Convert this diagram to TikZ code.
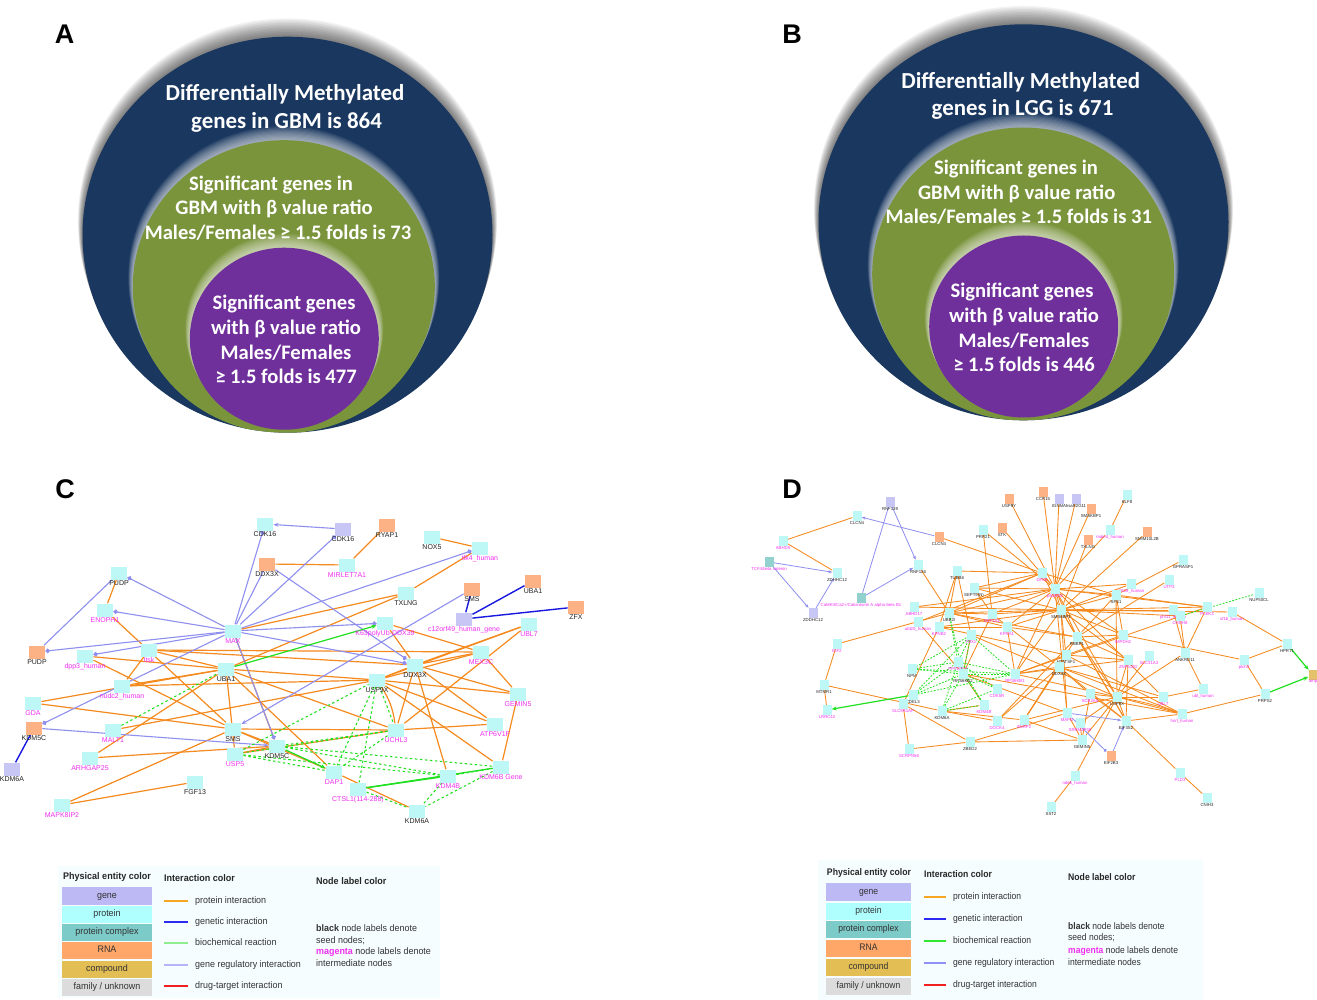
\documentclass[tikz,border=0pt]{standalone}
\usepackage{fontspec}
\setmainfont{Liberation Sans}
\newfontfamily\carl{Carlito}
\newfontfamily\legc[FakeStretch=0.94]{Liberation Sans}
\newfontfamily\legd[FakeStretch=0.90]{Liberation Sans}
\usetikzlibrary{arrows.meta}
\definecolor{navyc}{HTML}{19375F}
\definecolor{greenc}{HTML}{7A943C}
\definecolor{purpc}{HTML}{70309C}
\definecolor{colp}{HTML}{BDF8F6}
\definecolor{colr}{HTML}{FDB285}
\definecolor{colg}{HTML}{C8C6F4}
\definecolor{colc}{HTML}{93D1CF}
\definecolor{coly}{HTML}{E3C26A}
\definecolor{labk}{HTML}{222222}
\definecolor{labm}{HTML}{F030F0}
\definecolor{lorange}{HTML}{F58A1F}
\definecolor{lgr}{HTML}{8F8FF0}
\definecolor{lblue}{HTML}{1818E0}
\definecolor{lgreen}{HTML}{20E020}
\definecolor{legbg}{HTML}{F6FDFE}
\definecolor{lgene}{HTML}{BDB9F5}
\definecolor{lprot}{HTML}{AFFFFF}
\definecolor{lcomp}{HTML}{7CCBC8}
\definecolor{lrna}{HTML}{FFA769}
\definecolor{lcpd}{HTML}{E3BE55}
\definecolor{lfam}{HTML}{DCDCDC}
\definecolor{legtxt}{HTML}{333333}
\pgfdeclarelayer{edges}
\pgfdeclarelayer{back}
\pgfsetlayers{back,edges,main}
\tikzset{
 x=1pt,y=-1pt,
 cbox/.style={minimum width=16.5pt,minimum height=13pt,inner sep=0pt,draw=none},
 dbox/.style={minimum width=9pt,minimum height=10pt,inner sep=0pt,draw=none},
 clabel/.style={font=\fontsize{7}{8}\selectfont,inner sep=0pt,label distance=1pt},
 dlabel/.style={font=\fontsize{4.3}{5}\selectfont,inner sep=0pt},
 op/.style={lorange,line width=1.2pt},
 dop/.style={lorange,line width=.85pt},
 ggr/.style={lgr,line width=1.1pt},
 dgr/.style={lgr,line width=.8pt},
 gball/.style={ggr,-{Circle[length=4.5pt,width=4.5pt]}},
 garr/.style={ggr,-{Stealth[length=5pt,width=4pt]}},
 dball/.style={dgr,-{Circle[length=3pt,width=3pt]}},
 darr/.style={dgr,-{Stealth[length=4pt,width=3pt]}},
 gen/.style={lblue,line width=1.4pt},
 gs/.style={lgreen,line width=1.3pt},
 gsa/.style={lgreen,line width=1.2pt,-{Stealth[length=5pt,width=4pt]}},
 gd/.style={lgreen,line width=1.05pt,dash pattern=on 2.5pt off 2.5pt},
 dgd/.style={lgreen,line width=.8pt,dash pattern=on 1.8pt off 1.5pt},
 bigt/.style={white,anchor=base,inner sep=0pt,yshift=-1.2pt,font=\carl\bfseries\fontsize{22.9}{26}\selectfont},
 midt/.style={white,anchor=base,inner sep=0pt,yshift=-.8pt,font=\carl\bfseries\fontsize{20.6}{24}\selectfont},
 pan/.style={font=\bfseries\fontsize{27}{30}\selectfont,inner sep=0pt,text=black},
 legrow/.style={inner sep=0pt,minimum height=17.5pt,text=legtxt,text height=6.8pt,text depth=2pt},
 legh/.style={inner sep=0pt,text=black!85,text height=6.8pt,text depth=2pt},
 legt/.style={inner sep=0pt,anchor=west,text=legtxt,text height=6.8pt,text depth=2pt},
 fc/.style={font=\legc\fontsize{9.5}{11}\selectfont},
 fd/.style={font=\legd\fontsize{9.5}{11}\selectfont},
 fch/.style={font=\legc\bfseries\fontsize{9.6}{11}\selectfont},
 fdh/.style={font=\legd\bfseries\fontsize{9.6}{11}\selectfont},
}
\newcommand{\nC}[6]{\node[cbox,fill=col#4,label={[clabel,text=lab#5]below:#6}] (#1) at (#2,#3) {};}
\newcommand{\nD}[6]{\node[dbox,fill=col#4,label={[dlabel,text=lab#5]below:#6}] (#1) at (#2,#3) {};}
\newcommand{\ed}[2]{\foreach \a/\b in {#2} {\draw[#1] (\a) -- (\b);}}
% cx cy rx ry colour opacity up-shift-per-step
\newcommand{\halo}[7]{\foreach \i in {1,...,12} {\fill[#5,opacity=#6] (#1,{#2-\i*#7}) ellipse [x radius={#3pt+\i*.38pt},y radius={#4pt+\i*.38pt}];}}
\newcommand{\venn}[6]{%
 \halo{#1}{#2}{205}{198}{black}{.05}{1.15}
 \fill[navyc] (#1,#2) ellipse [x radius=205pt,y radius=198pt];
 \begin{scope}
 \clip (#1,#2) ellipse [x radius=205pt,y radius=198pt];
 \halo{#3}{#4}{151}{146.5}{white}{.07}{.8}
 \fill[greenc] (#3,#4) ellipse [x radius=151pt,y radius=146.5pt];
 \begin{scope}
 \clip (#3,#4) ellipse [x radius=151pt,y radius=146.5pt];
 \halo{#5}{#6}{94.5}{91}{white}{.065}{.8}
 \fill[purpc] (#5,#6) ellipse [x radius=94.5pt,y radius=91pt];
 \end{scope}
 \end{scope}}
\begin{document}
\begin{tikzpicture}
\useasboundingbox (0,0) rectangle (1317,1000);
\begin{pgfonlayer}{back}
\fill[white] (0,0) rectangle (1317,1000);
\end{pgfonlayer}
% ---------- panels A and B
\node[pan] (panA) at (64.5,34) {A};
\node[pan] (panB) at (792,34) {B};
\node[pan] (panC) at (65,489) {C};
\node[pan] (panD) at (792,489) {D};
\venn{287.5}{234.7}{283.8}{286.7}{284.3}{338.7}
\venn{1023.5}{222.3}{1023.2}{274}{1023.7}{326.5}
\node[bigt] (a1) at (285,99) {Differentially Methylated};
\node[bigt] (a2) at (286.5,127) {genes in GBM is 864};
\node[midt] (a3) at (271,190) {Significant genes in};
\node[midt] (a4) at (274,214) {GBM with β value ratio};
\node[midt] (a5) at (278,239) {Males/Females ≥ 1.5 folds is 73};
\node[midt] (a6) at (284,309) {Significant genes};
\node[midt] (a7) at (286,334) {with β value ratio};
\node[midt] (a8) at (286,359) {Males/Females};
\node[midt] (a9) at (286,383) {≥ 1.5 folds is 477};
\node[bigt] (b1) at (1020.7,87) {Differentially Methylated};
\node[bigt] (b2) at (1022.5,114) {genes in LGG is 671};
\node[midt] (b3) at (1016,174) {Significant genes in};
\node[midt] (b4) at (1016.7,199) {GBM with β value ratio};
\node[midt] (b5) at (1018.8,223) {Males/Females ≥ 1.5 folds is 31};
\node[midt] (b6) at (1022,297) {Significant genes};
\node[midt] (b7) at (1024,322) {with β value ratio};
\node[midt] (b8) at (1024,347) {Males/Females};
\node[midt] (b9) at (1024,371) {≥ 1.5 folds is 446};
% ---------- panel C nodes
\nC{cdka}{265}{524}{p}{k}{CDK16}
\nC{cdkb}{343}{529}{g}{k}{CDK16}
\nC{ryap}{387}{525}{r}{k}{RYAP1}
\nC{nox}{432}{537}{p}{k}{NOX5}
\nC{tlk}{480}{548}{p}{m}{tlk4\_human}
\nC{ddxr}{267}{564}{r}{k}{DDX3X}
\nC{mir}{347}{565}{p}{m}{MIRLET7A1}
\nC{txl}{406}{593}{p}{k}{TXLNG}
\nC{smsr}{472}{589}{r}{k}{SMS}
\nC{ubaa}{533}{581}{r}{k}{UBA1}
\nC{zfx}{576}{607}{r}{k}{ZFX}
\nC{corf}{464}{619}{g}{m}{c12orf49\_human\_gene}
\nC{ubl}{529}{624}{p}{m}{UBL7}
\nC{kub}{385}{623}{p}{m}{K63polyUb-DDX39}
\nC{mex}{481}{652}{p}{m}{MEX3C}
\nC{ddxp}{415}{665}{p}{k}{DDX3X}
\nC{usx}{377}{680}{p}{k}{USP9X}
\nC{gem}{518}{694}{p}{m}{GEMIN5}
\nC{atp}{495}{724}{p}{m}{ATP6V1F}
\nC{uch}{396}{730}{p}{m}{UCHL3}
\nC{kbg}{501}{767}{p}{m}{KDM6B Gene}
\nC{kdb}{448}{776}{p}{m}{KDM4B}
\nC{dap}{334}{772}{p}{m}{DAP1}
\nC{cts}{358}{789}{p}{m}{CTSL1(114-288)}
\nC{kda}{417}{811}{p}{k}{KDM6A}
\nC{pdt}{119}{573}{p}{k}{PUDP}
\nC{eno}{105}{610}{p}{m}{ENOPH1}
\nC{pdr}{37}{652}{r}{k}{PUDP}
\nC{dpp}{85}{656}{p}{m}{dpp3\_human}
\nC{max}{233}{631}{p}{m}{MAX}
\nC{itk}{149}{650}{p}{m}{Itsk}
\nC{ura}{226}{669}{p}{k}{UBA1}
\nC{nud}{122}{686}{p}{m}{nudc2\_human}
\nC{gda}{33}{703}{p}{m}{GDA}
\nC{kcr}{34}{728}{r}{k}{KDM5C}
\nC{mal}{113}{730}{p}{m}{MALT1}
\nC{sms}{233}{729}{p}{k}{SMS}
\nC{usf}{235}{754}{p}{m}{USP5}
\nC{kcp}{277}{746}{p}{k}{KDM5C}
\nC{arh}{90}{758}{p}{m}{ARHGAP25}
\nC{kag}{12}{769}{g}{k}{KDM6A}
\nC{fgf}{195}{782}{p}{k}{FGF13}
\nC{map}{62}{805}{p}{m}{MAPK8IP2}
% ---------- panel D nodes
\nD{rnf}{890}{502}{g}{k}{RNF139}
\nD{clp}{857}{516}{p}{k}{CLCN4}
\nD{clr}{939}{537}{r}{k}{CLCN4}
\nD{abh}{783}{541}{p}{m}{ABHD5}
\nD{tcf}{769}{562}{c}{m}{TCF4/beta catenin}
\nD{zda}{837}{573}{p}{k}{ZDHHC12}
\nD{zdb}{813}{613}{g}{k}{ZDDHC12}
\nD{rnb}{918}{565}{p}{k}{RNF126}
\nD{cam}{861}{598}{c}{m}{CaMKII/Ca2+/Calcineurin A alpha-beta B1}
\nD{eif}{837}{644}{p}{m}{EIF2}
\nD{mtm}{824}{685}{p}{k}{MTMR1}
\nD{lrr}{827}{710}{p}{m}{LRRC42}
\nD{usy}{1009}{499}{r}{k}{USP9Y}
\nD{prr}{983}{530}{p}{k}{PRR21}
\nD{stk}{1002}{528}{r}{k}{STK}
\nD{tub}{957}{571}{p}{k}{TUBB6}
\nD{sep}{974}{588}{p}{k}{SEPT9(N)}
\nD{ahd}{914}{607}{p}{m}{ABHD17}
\nD{ubt}{918}{622}{p}{m}{ubl20\_human}
\nD{ube}{949}{613}{p}{k}{UBE2I}
\nD{kpb}{939}{627}{p}{m}{KPNB2}
\nD{eef}{992}{614}{p}{m}{EEF1A1}
\nD{kpa}{1007}{627}{p}{m}{KPNA1}
\nD{tbx}{971}{635}{p}{m}{TBX1}
\nD{ppp}{958}{662}{p}{m}{PPP2R5A}
\nD{rsb}{963}{674}{p}{k}{RPS6KB2}
\nD{rsa}{1015}{674}{p}{m}{RPS6KB1}
\nD{npm}{912}{669}{p}{k}{NPM}
\nD{cdk}{997}{689}{p}{m}{CDK5R}
\nD{zdl}{913}{695}{p}{k}{ZDEL3}
\nD{slc}{903}{704}{p}{m}{SLC9A1AP}
\nD{kma}{942}{711}{p}{k}{KDM6A}
\nD{kmb}{984}{705}{p}{m}{KDM4B}
\nD{doc}{997}{721}{p}{m}{DOCK4}
\nD{snr}{1024}{720}{p}{m}{SNRP2}
\nD{zbe}{970}{742}{p}{k}{ZBED2}
\nD{scr}{909}{749}{p}{m}{SCRPN56}
\nD{ccr}{1043}{492}{r}{k}{CCR15}
\nD{ign}{1059}{499}{g}{k}{IGNMA}
\nD{igo}{1076}{499}{g}{k}{hsaR2G11}
\nD{smk}{1091}{509}{r}{k}{SMSKBP1}
\nD{klf}{1127}{495}{p}{k}{KLF8}
\nD{mdm}{1110}{530}{p}{m}{mdm4\_human}
\nD{smi}{1147}{532}{r}{k}{SMIM10L2B}
\nD{txn}{1088}{540}{r}{k}{TXLNG}
\nD{gpr}{1183}{560}{p}{k}{GPRASP1}
\nD{utp}{1169}{580}{p}{m}{UTP3}
\nD{pet}{1131}{584}{p}{m}{p8t19\_human}
\nD{dfs}{1042}{573}{p}{m}{DFS2}
\nD{prk}{1055}{589}{p}{m}{p53RK8}
\nD{sfs}{1116}{595}{p}{k}{SFS1}
\nD{smb}{1061}{610}{p}{k}{SMS6BP1}
\nD{phf}{1173}{610}{p}{m}{phf11\_human}
\nD{chd}{1180}{616}{p}{m}{CHDH8}
\nD{ple}{1207}{607}{p}{m}{PLEK3}
\nD{sfb}{1232}{612}{p}{m}{sf1b\_human}
\nD{nup}{1259}{593}{p}{k}{NUP50CL}
\nD{imp}{1123}{635}{p}{m}{IMPDH2}
\nD{rbb}{1077}{637}{p}{k}{RBBP1}
\nD{hta}{1066}{655}{p}{k}{HTATSF1}
\nD{ddx}{1059}{667}{p}{k}{DDX3X}
\nD{znf}{1128}{660}{p}{m}{ZNF5100}
\nD{sla}{1149}{656}{p}{m}{SLC31A3}
\nD{ank}{1185}{653}{p}{k}{ANKRD11}
\nD{pth}{1244}{660}{p}{m}{ptch3}
\nD{hpr}{1287}{644}{p}{k}{HPRT1}
\nD{amp}{1313}{675}{y}{m}{amp}
\nD{prp}{1265}{694}{p}{k}{PRPS2}
\nD{ubh}{1203}{689}{p}{m}{ubl\_human}
\nD{ubs}{1163}{697}{p}{m}{UBL7}
\nD{usn}{1117}{697}{p}{k}{USP9X}
\nD{scb}{1090}{694}{p}{m}{SCB2A5}
\nD{maf}{1067}{713}{p}{m}{MAFG}
\nD{srr}{1080}{723}{p}{m}{SRRM2P58}
\nD{efs}{1126}{721}{p}{k}{EIF3S2}
\nD{hnr}{1182}{714}{p}{m}{hnrl\_human}
\nD{gmn}{1082}{740}{p}{k}{GEMIN5}
\nD{efb}{1111}{756}{r}{k}{EIF2B3}
\nD{pld}{1180}{773}{p}{m}{PLD3}
\nD{ndk}{1075}{776}{p}{m}{ndek\_human}
\nD{cni}{1207}{798}{p}{k}{CNIH3}
\nD{sst}{1051}{807}{p}{k}{SST2}
\begin{pgfonlayer}{edges}
% ---------- panel C edges
\ed{op}{pdt/eno,eno/sms,itk/ura,itk/ddxp,itk/mex,itk/nud,dpp/ura,dpp/sms,nud/ura,nud/usx,gda/ura,gda/sms,mal/usx,arh/ura,arh/kcp,map/sms,map/fgf,max/kcp,ura/usf,ura/dap,dap/kda,sms/uch,sms/kcp,usf/uch,usf/kcp,max/txl,ura/txl,ddxr/mir,mir/ryap,nox/tlk,tlk/txl,kub/mex,kub/ddxp,usx/ddxp,usx/mex,ddxp/mex,ddxp/ubl,usx/ubl,uch/ubl,mex/gem,ddxp/gem,usx/gem,ddxp/atp,usx/atp,uch/atp,ddxp/kdb,usx/kbg,kbg/gem,ddxp/uch,ura/uch,ura/usx,sms/dap}
\draw[op] (usx) to[bend left=12] (uch);
\ed{ggr}{pdr/pdt,ddxr/max}
\ed{garr}{cdkb/cdka,smsr/sms,kcr/kcp}
\ed{gball}{max/cdka,max/cdkb,max/tlk,max/kub,max/ddxp,ddxr/ddxp,max/pdt,max/eno,max/pdr,max/dpp,max/kcr,max/kcp}
\ed{gen}{kcr/kag,corf/smsr,corf/ubaa,corf/zfx}
\ed{gsa}{ura/kub,kcp/dap}
\ed{gs}{cts/kbg,cts/kdb}
\ed{gd}{mal/ura,usf/usx,usx/dap,usx/uch,uch/dap,uch/kcp,uch/usf,kcp/kdb,kcp/kbg,usf/dap,usf/kdb,usx/cts,kdb/kda,kbg/kda,cts/kda,kdb/kbg}
% ---------- panel D edges
\ed{dop}{clp/abh,abh/zda,clr/dfs,rnb/ube,tub/ube,tub/kpb,tub/tbx,tub/dfs,sep/prk,sep/smb,sep/dfs,sep/eef,ube/smb,ube/dfs,ube/eef,kpb/kpa,ube/prk,ube/rbb,ube/kpa,ahd/prk,ahd/smb,ubt/dfs,ubt/rsb,kpb/slc,kpb/hta,kpb/smb,eef/smb,eef/prk,eef/rsb,eef/ddx,kpa/prk,kpa/rsa,kpa/rbb,kpa/smb,tbx/usn,tbx/rsb,eif/mtm,eif/ube,mtm/lrr,mtm/kma,slc/scr,slc/zbe,kma/snr,kma/doc,kmb/kma,kmb/rsb,zbe/scr,zbe/gmn,zbe/maf,doc/rbb,doc/ddx,snr/ddx,snr/hta,snr/gmn,snr/usn,snr/rbb,rsa/prk,rsa/smb,rsa/hta,rsa/ddx,rsa/ple,rsa/znf,rsa/usn,rsb/hnr,rsb/maf,usy/prk,prr/eef,prr/prk,stk/prk,ccr/prk,ign/prk,igo/prk,smk/prk,klf/mdm,mdm/prk,smi/smb,txn/smb,gpr/sfs,utp/rbb,pet/prk,pet/smb,dfs/prk,dfs/sfs,dfs/smb,prk/sfs,prk/smb,prk/imp,prk/ple,prk/ubs,prk/maf,prk/rbb,prk/usn,smb/sfs,smb/chd,smb/phf,smb/sfb,smb/ple,smb/rbb,smb/hta,smb/imp,smb/znf,smb/maf,smb/efs,sfs/ple,sfs/imp,sfs/usn,sfs/rbb,ple/ank,chd/ank,phf/ank,ank/ubh,imp/pth,imp/rbb,imp/hta,ank/usn,sfb/hpr,pth/hpr,pth/prp,prp/hnr,hnr/efs,efs/pld,pld/cni,usn/hnr,usn/ubs,ubs/ubh,usn/sla,usn/znf,ndk/sst,ndk/usn,rbb/usn,rbb/znf,rbb/efs,hta/znf,hta/hnr,ddx/efs,ddx/ubs,ddx/hnr,ddx/scb,scb/gmn,scb/efs,scb/usn,maf/gmn,srr/usn,srr/gmn,usn/efs,znf/efs,gmn/usn}
\draw[dop] (usn) to[bend left=4] (hnr);
\ed{dgr}{rnf/cam}
\ed{darr}{clr/clp,rnf/rnb,cam/rnb,tcf/zda,tcf/zdb,zdb/zda,maf/efs,efb/efs}
\ed{dball}{maf/efb}
\ed{gsa}{zdl/lrr,hpr/amp,prp/amp}
\ed{dgd}{chd/nup,ube/ppp,ube/rsb,tbx/ppp,tbx/rsb,tbx/npm,tbx/zdl,tbx/rsa,npm/ppp,npm/rsb,npm/rsa,zdl/ppp,zdl/rsb,zdl/rsa,kma/ppp,kma/rsb,kma/cdk,kma/kmb,ppp/rsa,rsb/rsa,cdk/ppp,cdk/rsb,kmb/ppp,kmb/rsb}
\end{pgfonlayer}
% ---------- legend C
\begin{pgfonlayer}{edges}
\fill[legbg] (58,866) rectangle (440,998);
\fill[legbg] (818,860) rectangle (1203,1000);
\end{pgfonlayer}
\node[legh,fch] (lc0) at (107,877) {Physical entity color};
\node[legrow,fc,fill=lgene,minimum width=90pt] (lc1) at (107,896) {gene};
\node[legrow,fc,fill=lprot,minimum width=90pt] (lc2) at (107,914.5) {protein};
\node[legrow,fc,fill=lcomp,minimum width=90pt] (lc3) at (107,932.5) {protein complex};
\node[legrow,fc,fill=lrna,minimum width=90pt] (lc4) at (107,950.5) {RNA};
\node[legrow,fc,fill=lcpd,minimum width=90pt] (lc5) at (107,969.5) {compound};
\node[legrow,fc,fill=lfam,minimum width=90pt] (lc6) at (107,987.5) {family / unknown};
\node[legh,fch,anchor=west] (lc7) at (164,879) {Interaction color};
\node[legh,fch,anchor=west] (lc8) at (316,882) {Node label color};
\foreach \yy/\cc/\tt/\nn in {901/F5A623/protein interaction/a,922/2A2AF0/genetic interaction/b,943/90EE90/biochemical reaction/c,965/B4B4F6/gene regulatory interaction/d,986/F02020/drug-target interaction/e}{
 \definecolor{tmpc}{HTML}{\cc}
 \node[legt,fc] (lct\nn) at (195,\yy) {\tt};
 \coordinate (lcl\nn) at (164,\yy);
 \draw[tmpc,line width=1.1pt] (lcl\nn) -- ++(24,0);
}
\node[legt,fc] (lc9) at (316,929) {\textbf{black} node labels denote};
\node[legt,fc] (lc10) at (316,941) {seed nodes;};
\node[legt,fc] (lc11) at (316,952.5) {\textcolor{labm}{\textbf{magenta}} node labels denote};
\node[legt,fc] (lc12) at (316,964) {intermediate nodes};
% ---------- legend D
\node[legh,fdh] (ld0) at (869,873) {Physical entity color};
\node[legrow,fd,fill=lgene,minimum width=85pt] (ld1) at (868.5,892) {gene};
\node[legrow,fd,fill=lprot,minimum width=85pt] (ld2) at (868.5,911.5) {protein};
\node[legrow,fd,fill=lcomp,minimum width=85pt] (ld3) at (868.5,929.5) {protein complex};
\node[legrow,fd,fill=lrna,minimum width=85pt] (ld4) at (868.5,948.5) {RNA};
\node[legrow,fd,fill=lcpd,minimum width=85pt] (ld5) at (868.5,967.5) {compound};
\node[legrow,fd,fill=lfam,minimum width=85pt] (ld6) at (868.5,986.5) {family / unknown};
\node[legh,fdh,anchor=west] (ld7) at (924,875) {Interaction color};
\node[legh,fdh,anchor=west] (ld8) at (1068,878) {Node label color};
\foreach \yy/\cc/\tt/\nn in {897/F5A623/protein interaction/a,919/2A2AF0/genetic interaction/b,941/30E830/biochemical reaction/c,963/9090F6/gene regulatory interaction/d,985/F02020/drug-target interaction/e}{
 \definecolor{tmpc}{HTML}{\cc}
 \node[legt,fd] (ldt\nn) at (953,\yy) {\tt};
 \coordinate (ldl\nn) at (924,\yy);
 \draw[tmpc,line width=1.1pt] (ldl\nn) -- ++(22,0);
}
\node[legt,fd] (ld9) at (1068,927) {\textbf{black} node labels denote};
\node[legt,fd] (ld10) at (1068,938.5) {seed nodes;};
\node[legt,fd] (ld11) at (1068,951) {\textcolor{labm}{\textbf{magenta}} node labels denote};
\node[legt,fd] (ld12) at (1068,963) {intermediate nodes};
\end{tikzpicture}
\end{document}
